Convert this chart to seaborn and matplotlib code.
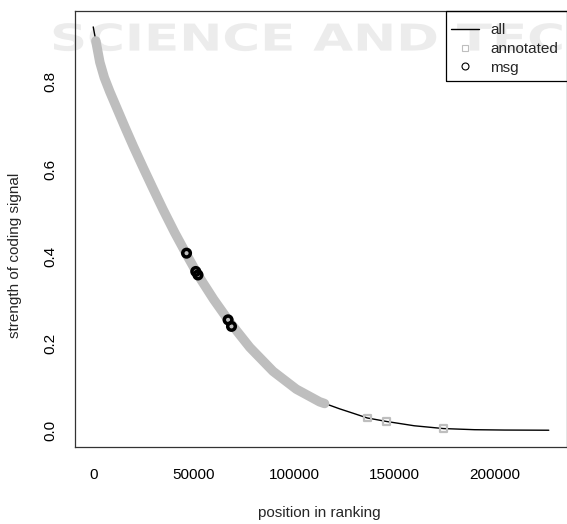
import numpy as np
import pandas as pd
import seaborn as sns
import matplotlib
matplotlib.use("Agg")
import matplotlib.pyplot as plt
from matplotlib.lines import Line2D
from matplotlib.textpath import TextPath
from matplotlib.patches import PathPatch, Rectangle
from matplotlib.font_manager import FontProperties
from matplotlib.transforms import Affine2D

# values
all_rank = [0, 1300, 3300, 5500, 8300, 15800, 20000, 24900, 29500, 34800, 40500, 46500,
            52200, 60000, 68000, 78000, 89600, 101200, 112800, 116100,
            122700, 130000, 136500, 146000, 160000, 174600,
            190000, 205000, 227000]
all_value = [0.926, 0.894, 0.845, 0.81, 0.777, 0.696, 0.652, 0.603, 0.558, 0.507, 0.455, 0.404,
             0.357, 0.301, 0.249, 0.191, 0.136, 0.095, 0.066, 0.061,
             0.050, 0.039, 0.029, 0.021, 0.011, 0.0046,
             0.002, 0.0012, 0.0008]

# dense band of annotated entries, then the few isolated ones in the tail
annot_rank = [1300, 3300, 5500, 8300, 15800, 20000, 24900, 29500, 34800, 40500, 46500,
              52200, 60000, 68000, 78000, 89600, 101200, 112800, 115300]
annot_value = [0.894, 0.845, 0.81, 0.777, 0.696, 0.652, 0.603, 0.558, 0.507, 0.455, 0.404,
               0.357, 0.301, 0.249, 0.191, 0.136, 0.095, 0.066, 0.062]
tail_rank = [136500, 146000, 174600]
tail_value = [0.029, 0.021, 0.0046]

msg_rank = [46500, 51100, 52200, 67200, 68900]
msg_value = [0.407, 0.365, 0.357, 0.254, 0.239]

x_ticks = [0, 50000, 100000, 150000, 200000]
y_ticks = [0.0, 0.2, 0.4, 0.6, 0.8]

sns.set_style("white")
plt.rcParams['font.family'] = ['Liberation Sans', 'DejaVu Sans']
plt.rcParams['font.size'] = 11

fig = plt.figure(figsize=(5.67, 5.24), dpi=100)
ax = fig.add_axes([75 / 567, 1 - 446.7 / 524, 492 / 567, 435.9 / 524])
ax.set_facecolor('none')

# faint watermark from the source page
tp = TextPath((0, 0), "SCIENCE AND TECH", size=1,
              prop=FontProperties(family='DejaVu Sans', weight='bold'))
wm = PathPatch(tp, transform=Affine2D().scale(0.515, 0.37).translate(0.5, 4.734) + fig.dpi_scale_trans,
               facecolor='#ececec', edgecolor='none', zorder=-1)
fig.patches.append(wm)

all_df = pd.DataFrame({'rank': all_rank, 'value': all_value})
ann_df = pd.DataFrame({'rank': annot_rank, 'value': annot_value})
tail_df = pd.DataFrame({'rank': tail_rank, 'value': tail_value})
msg_df = pd.DataFrame({'rank': msg_rank, 'value': msg_value})

sns.lineplot(data=all_df, x='rank', y='value', ax=ax, color='black', lw=1.0,
             estimator=None, sort=False, zorder=2)
sns.lineplot(data=ann_df, x='rank', y='value', ax=ax, color='#bebebe', lw=6.8,
             estimator=None, sort=False, zorder=3, solid_capstyle='round',
             solid_joinstyle='round')
sns.scatterplot(data=tail_df, x='rank', y='value', ax=ax, marker='s', s=24,
                facecolor='none', edgecolor='#bebebe', linewidth=1.6, zorder=3)
sns.scatterplot(data=msg_df, x='rank', y='value', ax=ax, marker='o', s=30,
                facecolor='none', edgecolor='black', linewidth=2.5, zorder=4)

ax.set_xlim(-9080, 236080)
ax.set_ylim(-0.037, 0.963)
ax.set_xticks(x_ticks)
ax.set_xticklabels([str(t) for t in x_ticks])
ax.set_yticks(y_ticks)
ax.set_yticklabels(['%.1f' % t for t in y_ticks], rotation=90, va='center')
ax.tick_params(axis='x', direction='out', length=6, width=0.8, pad=9, colors='black')
ax.tick_params(axis='y', direction='out', length=6, width=0.8, pad=7, colors='black')
for sp in ax.spines.values():
    sp.set_visible(True)
    sp.set_color('#333333')
    sp.set_linewidth(0.9)

ax.set_xlabel('position in ranking')
ax.set_ylabel('strength of coding signal')
ax.xaxis.label.set_va('center')
ax.yaxis.label.set_va('center')
ax.xaxis.set_label_coords(0.497, (446.7 - 512.7) / 435.9)
ax.yaxis.set_label_coords((15 - 75) / 492, (446.7 - 255) / 435.9)

# legend box, running off the right edge like the original
leg_x0 = (446 - 75) / 492
leg_y0 = (446.7 - 81) / 435.9
ax.add_patch(Rectangle((leg_x0, leg_y0), 0.5, 1 - leg_y0, transform=ax.transAxes,
                       facecolor='none', edgecolor='black', lw=0.9, clip_on=False, zorder=5))

handles = [Line2D([], [], color='black', lw=1.0),
           Line2D([], [], ls='none', marker='s', ms=4.5, mfc='none', mec='#bebebe', mew=0.8),
           Line2D([], [], ls='none', marker='o', ms=5, mfc='none', mec='black', mew=0.8)]
leg = ax.legend(handles, ['all', 'annotated', 'msg'], loc='upper left',
                bbox_to_anchor=((450.5 - 75) / 492, (446.7 - 23) / 435.9),
                frameon=False, borderpad=0, handlelength=1.85, handletextpad=0.75,
                labelspacing=0.32, borderaxespad=0)

fig.savefig('out.png', dpi=100)
